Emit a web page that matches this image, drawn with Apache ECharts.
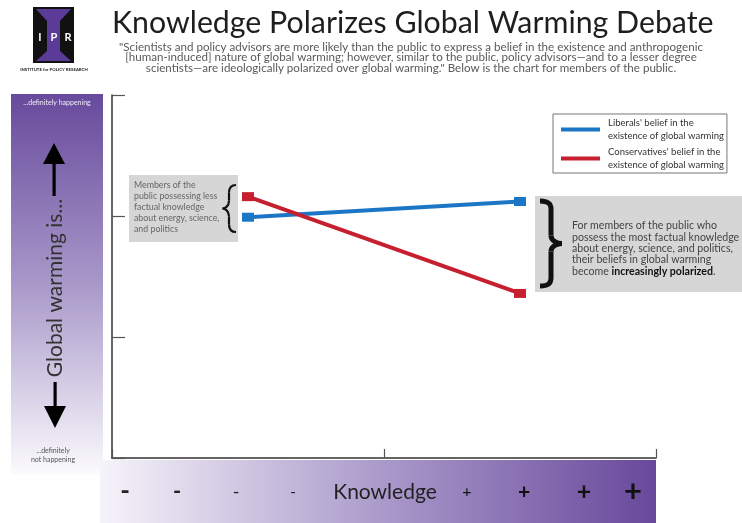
<!DOCTYPE html>
<html>
<head>
<meta charset="utf-8">
<script src="https://cdn.jsdelivr.net/npm/echarts@6/dist/echarts.min.js"></script>
<style>
html,body{margin:0;padding:0;background:#fff;}
#chart{width:742px;height:523px;}
</style>
</head>
<body>
<div id="chart"></div>
<script>
// ---- data ----
const knowledgeLevels = [0.5, 1.5];
const liberals = [1.99, 2.12];
const conservatives = [2.16, 1.36];
const seriesNames = [
  "Liberals' belief in the\nexistence of global warming",
  "Conservatives' belief in the\nexistence of global warming"
];
const knowledgeLabels = ['-', '-', '-', '-', 'Knowledge', '+', '+', '+', '+'];
const titleText = 'Knowledge Polarizes Global Warming Debate';
const subtitleLines = [
  '"Scientists and policy advisors are more likely than the public to express a belief in the existence and anthropogenic',
  '[human-induced] nature of global warming; however, similar to the public, policy advisors\u2014and to a lesser degree',
  'scientists\u2014are ideologically polarized over global warming." Below is the chart for members of the public.'
];
const leftNote = ['Members of the', 'public possessing less', 'factual knowledge', 'about energy, science,', 'and politics'];
const rightNote = ['For members of the public who', 'possess the most factual knowledge', 'about energy, science, and politics,', 'their beliefs in global warming'];
const yAxisTitle = 'Global warming is...';

// ---- layout / style ----
const FONT = 'Lato, "Open Sans", sans-serif';
const BLUE = '#1c76c6';
const RED = '#c61f2f';
const labelX = [125, 177, 236, 293, 385, 467, 524, 584, 633];
const labelSize = [26, 22, 18, 15, 21, 16, 21, 25, 31];
const labelWeight = ['bold', 'bold', 'normal', 'normal', 'normal', 'normal', 'bold', 'bold', 'bold'];

const chart = echarts.init(document.getElementById('chart'), null, {renderer: 'canvas'});

function brace(xOut, xMid, xTip, yTop, yBot, lw) {
  const ym = (yTop + yBot) / 2;
  const d = (xMid - xOut);
  const r = Math.min(8, (yBot - yTop) / 6);
  const st = {fill: 'none', stroke: '#111', lineWidth: lw};
  return [
    {type: 'bezierCurve', shape: {x1: xOut, y1: yTop, cpx1: xOut + d * 0.8, cpy1: yTop, cpx2: xMid, cpy2: yTop + r * 0.4, x2: xMid, y2: yTop + r}, style: st},
    {type: 'line', shape: {x1: xMid, y1: yTop + r, x2: xMid, y2: ym - r}, style: st},
    {type: 'bezierCurve', shape: {x1: xMid, y1: ym - r, cpx1: xMid, cpy1: ym - r * 0.3, cpx2: xTip - (xTip - xMid) * 0.4, cpy2: ym, x2: xTip, y2: ym}, style: st},
    {type: 'bezierCurve', shape: {x1: xTip, y1: ym, cpx1: xTip - (xTip - xMid) * 0.4, cpy1: ym, cpx2: xMid, cpy2: ym + r * 0.3, x2: xMid, y2: ym + r}, style: st},
    {type: 'line', shape: {x1: xMid, y1: ym + r, x2: xMid, y2: yBot - r}, style: st},
    {type: 'bezierCurve', shape: {x1: xMid, y1: yBot - r, cpx1: xMid, cpy1: yBot - r * 0.4, cpx2: xOut + d * 0.8, cpy2: yBot, x2: xOut, y2: yBot}, style: st}
  ];
}

const graphics = [];
// logo
graphics.push({type: 'rect', shape: {x: 33, y: 7, width: 41, height: 56}, style: {fill: '#111'}});
graphics.push({type: 'polygon', shape: {points: [[36, 9], [71, 9], [60, 21], [60, 51], [71, 61], [36, 61], [47, 51], [47, 21]]}, style: {fill: '#5a3c98'}});
[['I', 40], ['P', 54], ['R', 68]].forEach(function (p) {
  graphics.push({type: 'text', x: p[1], y: 37, style: {text: p[0], fill: '#fff', font: 'bold 11px ' + FONT, textAlign: 'center', textVerticalAlign: 'middle'}});
});
graphics.push({type: 'text', x: 54, y: 70, style: {text: 'INSTITUTE for POLICY RESEARCH', fill: '#222', font: 'bold 4.3px ' + FONT, textAlign: 'center', textVerticalAlign: 'middle'}});
// title + subtitle
graphics.push({type: 'text', x: 112, y: 23, style: {text: titleText, fill: '#1e1e1e', font: '30.3px ' + FONT, textAlign: 'left', textVerticalAlign: 'middle'}});
subtitleLines.forEach(function (t, i) {
  graphics.push({type: 'text', x: 411, y: 47 + i * 10.6, style: {text: t, fill: '#5a5a5a', font: '11.6px ' + FONT, textAlign: 'center', textVerticalAlign: 'middle'}});
});
// left vertical panel
graphics.push({type: 'rect', z: -1, shape: {x: 11, y: 94, width: 92, height: 380}, style: {fill: {type: 'linear', x: 0, y: 0, x2: 0, y2: 1, colorStops: [{offset: 0, color: '#674a9c'}, {offset: 0.5, color: '#a898c9'}, {offset: 1, color: '#fbfafd'}]}}});
graphics.push({type: 'text', x: 57, y: 103, style: {text: '...definitely happening', fill: '#f2eef8', font: '7px ' + FONT, textAlign: 'center', textVerticalAlign: 'middle'}});
graphics.push({type: 'text', x: 53, y: 455, style: {text: '...definitely\nnot happening', fill: '#555', font: '7px ' + FONT, lineHeight: 8.5, textAlign: 'center', textVerticalAlign: 'middle'}});
graphics.push({type: 'polygon', shape: {points: [[54, 143], [43, 164], [65, 164]]}, style: {fill: '#000'}});
graphics.push({type: 'rect', shape: {x: 52.5, y: 163, width: 3.2, height: 33}, style: {fill: '#000'}});
graphics.push({type: 'rect', shape: {x: 53.5, y: 382, width: 3.2, height: 25}, style: {fill: '#000'}});
graphics.push({type: 'polygon', shape: {points: [[44, 406], [66, 406], [55, 428]]}, style: {fill: '#000'}});
graphics.push({type: 'text', x: 55, y: 288, rotation: Math.PI / 2, style: {text: yAxisTitle, fill: '#333', font: '21px ' + FONT, textAlign: 'center', textVerticalAlign: 'middle'}});
// bottom knowledge bar
graphics.push({type: 'rect', z: -1, shape: {x: 100, y: 460, width: 556, height: 63}, style: {fill: {type: 'linear', x: 0, y: 0, x2: 1, y2: 0, colorStops: [{offset: 0, color: '#f6f4fa'}, {offset: 0.5, color: '#ab9bcb'}, {offset: 1, color: '#68489b'}]}}});
knowledgeLabels.forEach(function (t, i) {
  graphics.push({type: 'text', x: labelX[i], y: 492, style: {text: t, fill: i < 5 ? '#222' : '#111', font: labelWeight[i] + ' ' + labelSize[i] + 'px ' + FONT, textAlign: 'center', textVerticalAlign: 'middle'}});
});
// left annotation
graphics.push({type: 'rect', shape: {x: 129, y: 175, width: 109, height: 67}, style: {fill: '#d6d6d6'}});
leftNote.forEach(function (t, i) {
  graphics.push({type: 'text', x: 134, y: 185 + i * 11, style: {text: t, fill: '#666', font: '8.8px ' + FONT, textAlign: 'left', textVerticalAlign: 'middle'}});
});
brace(236, 229, 222.5, 185, 232, 2.2).forEach(function (g) { graphics.push(g); });
// right annotation
graphics.push({type: 'rect', shape: {x: 535, y: 196, width: 207, height: 96}, style: {fill: '#d6d6d6'}});
rightNote.forEach(function (t, i) {
  graphics.push({type: 'text', x: 572, y: 226 + i * 11.3, style: {text: t, fill: '#444', font: '10.6px ' + FONT, textAlign: 'left', textVerticalAlign: 'middle'}});
});
graphics.push({type: 'text', x: 572, y: 226 + 4 * 11.3, style: {
  text: '{n|become }{b|increasingly polarized}{n|.}',
  textVerticalAlign: 'middle', textAlign: 'left',
  rich: {n: {fill: '#444', font: '10.6px ' + FONT}, b: {fill: '#111', font: 'bold 10.6px ' + FONT}}
}});
brace(540, 551, 562, 201, 286, 5).forEach(function (g) { graphics.push(g); });

const option = {
  animation: false,
  backgroundColor: '#fff',
  grid: {left: 112, top: 95, width: 544, height: 363, containLabel: false},
  xAxis: {
    type: 'value', min: 0, max: 2, interval: 1,
    axisLine: {show: true, lineStyle: {color: '#333', width: 1.5}},
    axisTick: {show: true, inside: true, length: 9, lineStyle: {color: '#555', width: 1.2}},
    axisLabel: {show: false}, splitLine: {show: false}
  },
  yAxis: {
    type: 'value', min: 0, max: 3, interval: 1,
    axisLine: {show: true, lineStyle: {color: '#333', width: 1.5}},
    axisTick: {show: true, inside: true, length: 13, lineStyle: {color: '#555', width: 1.2}},
    axisLabel: {show: false}, splitLine: {show: false}
  },
  legend: {
    orient: 'vertical', left: 553, top: 114,
    icon: 'rect', itemWidth: 39, itemHeight: 4, itemGap: 4,
    padding: [3, 3, 2, 8],
    backgroundColor: '#fff', borderColor: '#777', borderWidth: 1,
    textStyle: {fontFamily: FONT, fontSize: 9.5, color: '#333', lineHeight: 12.5, padding: [0, 0, 0, 3]},
    data: seriesNames
  },
  graphic: graphics,
  series: [
    {
      name: seriesNames[0], type: 'line', z: 3,
      data: knowledgeLevels.map(function (k, i) { return [k, liberals[i]]; }),
      symbol: 'rect', symbolSize: [12, 9], showSymbol: true,
      lineStyle: {color: BLUE, width: 4}, itemStyle: {color: BLUE}
    },
    {
      name: seriesNames[1], type: 'line', z: 3,
      data: knowledgeLevels.map(function (k, i) { return [k, conservatives[i]]; }),
      symbol: 'rect', symbolSize: [12, 9], showSymbol: true,
      lineStyle: {color: RED, width: 4}, itemStyle: {color: RED}
    }
  ]
};
chart.setOption(option);
</script>
</body>
</html>
